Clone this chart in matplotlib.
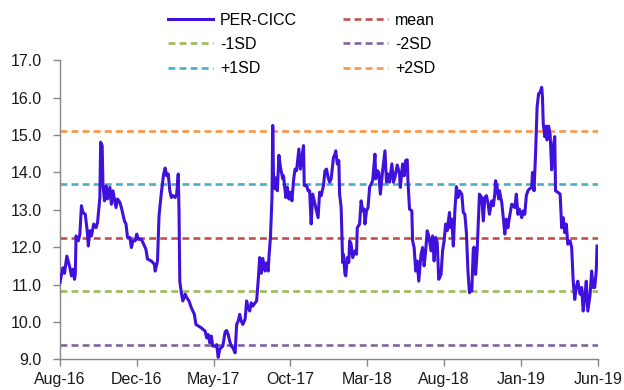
import numpy as np
import matplotlib.pyplot as plt

plt.rcParams['font.family'] = ['Liberation Sans', 'DejaVu Sans']

# trading-day number since the start of the window, and P/E level on that day
days = [0, 4, 6, 9, 13, 15, 17, 19, 20, 21, 24, 26, 28, 30, 33, 36, 37, 39, 41, 44,
        47, 49, 52, 53, 55, 56, 58, 60, 62, 65, 67, 69, 71, 73, 75, 78, 80, 82, 84, 86,
        88, 91, 93, 95, 98, 100, 102, 106, 109, 112, 114, 119, 123, 124, 127, 129, 132, 135, 137, 139,
        141, 143, 145, 147, 150, 152, 154, 155, 156, 158, 160, 163, 165, 168, 171, 175, 177, 180, 184, 189,
        191, 193, 195, 197, 199, 202, 204, 206, 208, 210, 212, 215, 217, 219, 221, 223, 225, 228, 230, 232,
        234, 236, 238, 241, 243, 245, 247, 249, 251, 254, 256, 258, 260, 262, 264, 267, 269, 271, 272, 274,
        276, 277, 278, 280, 282, 283, 285, 287, 290, 291, 294, 296, 298, 300, 302, 304, 306, 308, 311, 313,
        315, 317, 318, 321, 323, 325, 327, 329, 331, 333, 336, 338, 340, 343, 345, 347, 349, 351, 353, 356,
        358, 359, 361, 363, 364, 366, 368, 369, 371, 372, 374, 376, 377, 379, 381, 384, 386, 387, 390, 392,
        394, 396, 397, 399, 401, 403, 405, 407, 410, 411, 413, 415, 417, 420, 423, 425, 427, 429, 432, 434,
        436, 439, 442, 443, 446, 448, 450, 452, 453, 455, 458, 459, 461, 463, 465, 467, 470, 472, 474, 476,
        478, 480, 483, 485, 487, 489, 491, 493, 496, 498, 500, 502, 504, 507, 508, 510, 512, 514, 516, 518,
        520, 523, 525, 527, 529, 531, 533, 534, 536, 538, 539, 541, 543, 546, 549, 551, 553, 555, 557, 559,
        562, 564, 566, 567, 569, 571, 572, 575, 577, 579, 581, 583, 585, 588, 590, 592, 594, 596, 598, 601,
        603, 605, 607, 609, 611, 614, 615, 617, 619, 621, 623, 625, 627, 628, 629, 631, 633, 634, 636, 638,
        640, 642, 644, 645, 648, 651, 653, 655, 657, 659, 661, 664, 666, 668, 670, 672, 674, 677, 679, 681,
        683, 685, 687, 690, 692, 694, 696, 698, 699]
per = [11.05, 11.45, 11.30, 11.76, 11.45, 11.23, 11.41, 11.14, 11.27, 12.30, 12.17, 12.35, 13.11, 12.93, 12.88, 12.35, 12.03, 12.44, 12.30, 12.62,
       12.52, 12.66, 13.33, 14.81, 14.72, 13.69, 13.24, 13.64, 13.29, 13.60, 13.15, 13.51, 13.29, 13.06, 13.29, 13.20, 13.06, 12.88, 12.70, 12.62,
       12.26, 12.26, 11.99, 12.17, 12.17, 12.35, 12.21, 12.21, 12.08, 11.94, 11.68, 11.63, 11.54, 11.36, 11.63, 12.84, 13.45, 13.96, 14.12, 13.91,
       13.96, 13.51, 13.33, 13.38, 13.33, 13.42, 13.96, 12.97, 11.09, 10.78, 10.56, 10.74, 10.65, 10.56, 10.38, 10.20, 9.93, 9.89, 9.84, 9.75,
       9.57, 9.66, 9.44, 9.62, 9.35, 9.35, 9.39, 9.05, 9.27, 9.31, 9.35, 9.73, 9.77, 9.66, 9.48, 9.35, 9.31, 9.17, 9.93, 10.02,
       10.20, 10.02, 9.93, 10.07, 10.56, 10.38, 10.29, 10.51, 10.42, 10.51, 10.56, 11.09, 11.72, 11.30, 11.70, 11.36, 11.58, 11.36, 11.72, 12.26,
       13.33, 15.26, 13.87, 13.56, 13.87, 13.51, 14.46, 14.14, 13.83, 13.91, 13.33, 13.60, 13.29, 13.47, 13.24, 13.78, 14.09, 14.05, 14.63, 14.09,
       14.40, 14.72, 13.65, 13.65, 13.51, 13.51, 12.62, 13.42, 13.24, 13.06, 12.79, 13.47, 13.38, 13.65, 14.05, 14.09, 13.87, 13.74, 13.83, 14.40,
       14.49, 14.58, 14.23, 14.32, 13.42, 13.06, 11.59, 11.81, 11.27, 11.23, 11.72, 11.59, 12.17, 12.08, 11.72, 11.90, 11.81, 12.52, 12.62, 13.24,
       12.97, 13.02, 12.62, 12.97, 13.06, 13.60, 13.69, 13.78, 14.49, 13.83, 14.05, 14.00, 13.42, 14.05, 14.58, 13.74, 13.96, 13.74, 14.23, 13.74,
       13.87, 14.20, 13.96, 13.60, 14.23, 13.91, 14.32, 14.34, 13.74, 13.02, 12.97, 12.17, 11.99, 11.36, 11.63, 11.09, 11.81, 11.99, 11.50, 11.90,
       12.44, 12.30, 11.90, 12.30, 11.63, 12.26, 12.13, 11.14, 11.27, 11.90, 12.17, 12.62, 12.44, 12.93, 12.52, 12.75, 12.03, 12.97, 13.62, 13.33,
       13.51, 13.42, 12.93, 12.88, 12.39, 11.36, 10.78, 10.92, 10.83, 11.95, 12.00, 11.27, 11.90, 13.42, 13.33, 12.70, 13.33, 13.38, 13.20, 12.88,
       13.24, 13.11, 13.42, 13.78, 13.60, 13.29, 13.51, 13.20, 12.79, 12.35, 12.75, 12.52, 12.79, 13.15, 13.11, 13.06, 13.42, 12.88, 13.02, 12.79,
       12.97, 12.88, 13.38, 13.51, 13.56, 13.60, 14.00, 13.51, 14.49, 15.75, 16.11, 16.15, 16.28, 16.02, 15.31, 14.96, 15.24, 14.87, 15.24, 15.01,
       14.07, 14.70, 14.96, 13.51, 13.47, 13.42, 12.52, 12.79, 12.39, 12.62, 12.08, 12.17, 11.99, 11.09, 10.60, 10.92, 11.09, 10.74, 10.92, 10.29,
       10.65, 11.09, 10.29, 10.74, 11.36, 10.92, 10.92, 11.36, 12.03]

# band levels: mean and +/- 1, 2 standard deviations
band_names = ['mean', '-1SD', '-2SD', '+1SD', '+2SD']
band_levels = [12.25, 10.82, 9.38, 13.68, 15.12]
band_colors = ['#C0504D', '#9BBB59', '#8064A2', '#4BACC6', '#F79646']

tick_days = [0, 100, 200, 300, 400, 500, 600, 700]
tick_labels = ['Aug-16', 'Dec-16', 'May-17', 'Oct-17', 'Mar-18', 'Aug-18', 'Jan-19', 'Jun-19']

fig = plt.figure(figsize=(6.24, 3.9), dpi=100)
ax = fig.add_axes([0.096, 0.079, 0.862, 0.766])

h_per, = ax.plot(days, per, color='#4010DC', lw=2.2, solid_joinstyle='round', zorder=3)
band_handles = {}
for name, level, c in zip(band_names, band_levels, band_colors):
    band_handles[name] = ax.axhline(level, color=c, lw=1.9, ls=(0, (2.6, 1.6)), zorder=2)

ax.set_xlim(0, 700)
ax.set_ylim(9, 17)
ax.set_yticks(np.arange(9, 17.5, 1))
ax.set_yticklabels([f'{v:.1f}' for v in np.arange(9, 17.5, 1)])
ax.set_xticks(tick_days)
ax.set_xticklabels(tick_labels)

for s in ['top', 'right']:
    ax.spines[s].set_visible(False)
for s in ['left', 'bottom']:
    ax.spines[s].set_color('#868686')
    ax.spines[s].set_linewidth(1.0)
ax.tick_params(axis='both', colors='#868686', labelcolor='#1a1a1a', labelsize=11.5,
               length=5, width=1.0, direction='out')
ax.tick_params(axis='y', pad=8)
ax.tick_params(axis='x', pad=4)

# legend in two columns above the plot area
handles = [h_per, band_handles['-1SD'], band_handles['+1SD'],
           band_handles['mean'], band_handles['-2SD'], band_handles['+2SD']]
labels = ['PER-CICC', '-1SD', '+1SD', 'mean', '-2SD', '+2SD']
fig.legend(handles, labels, ncol=2, loc='upper left', bbox_to_anchor=(0.246, 1.004),
           frameon=False, fontsize=11.5, handlelength=2.8, handletextpad=0.45,
           columnspacing=2.9, labelspacing=0.58)

fig.savefig('out.png', dpi=100)
